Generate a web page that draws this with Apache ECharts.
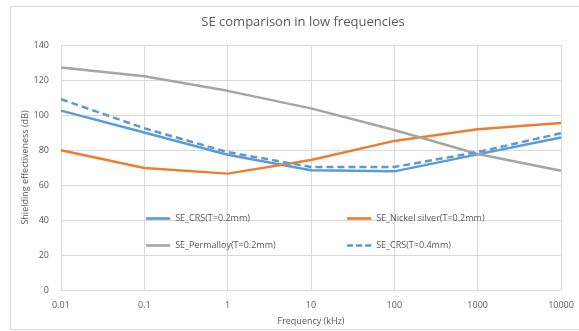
<!DOCTYPE html>
<html>
<head>
<meta charset="utf-8">
<script src="https://cdn.jsdelivr.net/npm/echarts@6/dist/echarts.min.js"></script>
<style>
  html, body { margin: 0; padding: 0; background: #fff; }
  #frame { position: absolute; left: 10px; top: 6px; width: 600px; height: 322px; border: 1px solid #d9d9d9; }
  #chart { position: absolute; left: 0; top: 0; width: 579px; height: 331px; }
</style>
</head>
<body>
<div id="frame"></div>
<div id="chart"></div>
<script>
// frequency decades (kHz)
const freqs = ["0.01", "0.1", "1", "10", "100", "1000", "10000"];
// shielding effectiveness (dB)
const crs02 = [102.5, 90, 77.3, 68.4, 67.8, 77.5, 87.1];
const nickel02 = [79.9, 69.7, 66.5, 74.3, 85.2, 91.8, 95.4];
const permalloy02 = [127.2, 122.2, 113.8, 103.8, 91.4, 77.7, 68.2];
const crs04 = [109, 92.4, 78.8, 70.3, 70.3, 78.8, 89.6];

const seriesNames = [
  "SE_CRS(T=0.2mm)",
  "SE_Nickel silver(T=0.2mm)",
  "SE_Permalloy(T=0.2mm)",
  "SE_CRS(T=0.4mm)",
];

var chart;
window.onload = function () {
  chart = echarts.init(document.getElementById("chart"));
  chart.setOption(option);
};

const textColor = "#595959";
const font = "Open Sans";
// legend line icons (solid / dashed)
const solidIcon = "path://M0,0h28v3h-28z";
const dashIcon = "path://M0,0h7v3h-7z M10.5,0h7v3h-7z M21,0h7v3h-7z";

function legendAt(name, dashed, left, top) {
  return {
    data: [{ name: name, icon: dashed ? dashIcon : solidIcon }],
    left: left,
    top: top,
    itemWidth: 28,
    itemHeight: 2.6,
    itemGap: 0,
    selectedMode: false,
    textStyle: { color: textColor, fontSize: 9, fontFamily: font, padding: [0, 0, 0, -2] },
  };
}

function lineSeries(name, data, color, dashed) {
  return {
    name: name,
    type: "line",
    data: data,
    symbol: "none",
    smooth: false,
    lineStyle: { color: color, width: 2.5, type: dashed ? [7, 4] : "solid", cap: "butt" },
    itemStyle: { color: color },
  };
}

var option = {
  animation: false,
  title: {
    text: "SE comparison in low frequencies",
    left: 298,
    top: 11,
    textAlign: "center",
    textStyle: { color: textColor, fontSize: 13, fontWeight: "normal", fontFamily: font },
  },
  grid: { left: 61, right: 18, top: 45, bottom: 38 },
  legend: [
    legendAt(seriesNames[0], false, 141, 209),
    legendAt(seriesNames[1], false, 342, 209),
    legendAt(seriesNames[2], false, 141, 236),
    legendAt(seriesNames[3], true, 342, 236),
  ],
  xAxis: {
    type: "category",
    data: freqs,
    boundaryGap: false,
    name: "Frequency (kHz)",
    nameLocation: "middle",
    nameGap: 27,
    nameTextStyle: { color: textColor, fontSize: 9, fontFamily: font },
    axisLine: { lineStyle: { color: "#d9d9d9" } },
    axisTick: { show: false },
    axisLabel: { color: textColor, fontSize: 9, fontFamily: font, margin: 11 },
    splitLine: { show: true, lineStyle: { color: "#d9d9d9" } },
  },
  yAxis: {
    type: "value",
    min: 0,
    max: 140,
    interval: 20,
    name: "Shielding effectiveness (dB)",
    nameLocation: "middle",
    nameGap: 31,
    nameMoveOverlap: false,
    nameTextStyle: { color: textColor, fontSize: 9, fontFamily: font },
    axisLine: { show: false },
    axisTick: { show: false },
    axisLabel: { color: textColor, fontSize: 9, fontFamily: font, margin: 12 },
    splitLine: { lineStyle: { color: "#d9d9d9" } },
  },
  series: [
    lineSeries(seriesNames[0], crs02, "#5b9bd5", false),
    lineSeries(seriesNames[1], nickel02, "#ed7d31", false),
    lineSeries(seriesNames[2], permalloy02, "#a5a5a5", false),
    lineSeries(seriesNames[3], crs04, "#5b9bd5", true),
  ],
};
</script>
</body>
</html>
